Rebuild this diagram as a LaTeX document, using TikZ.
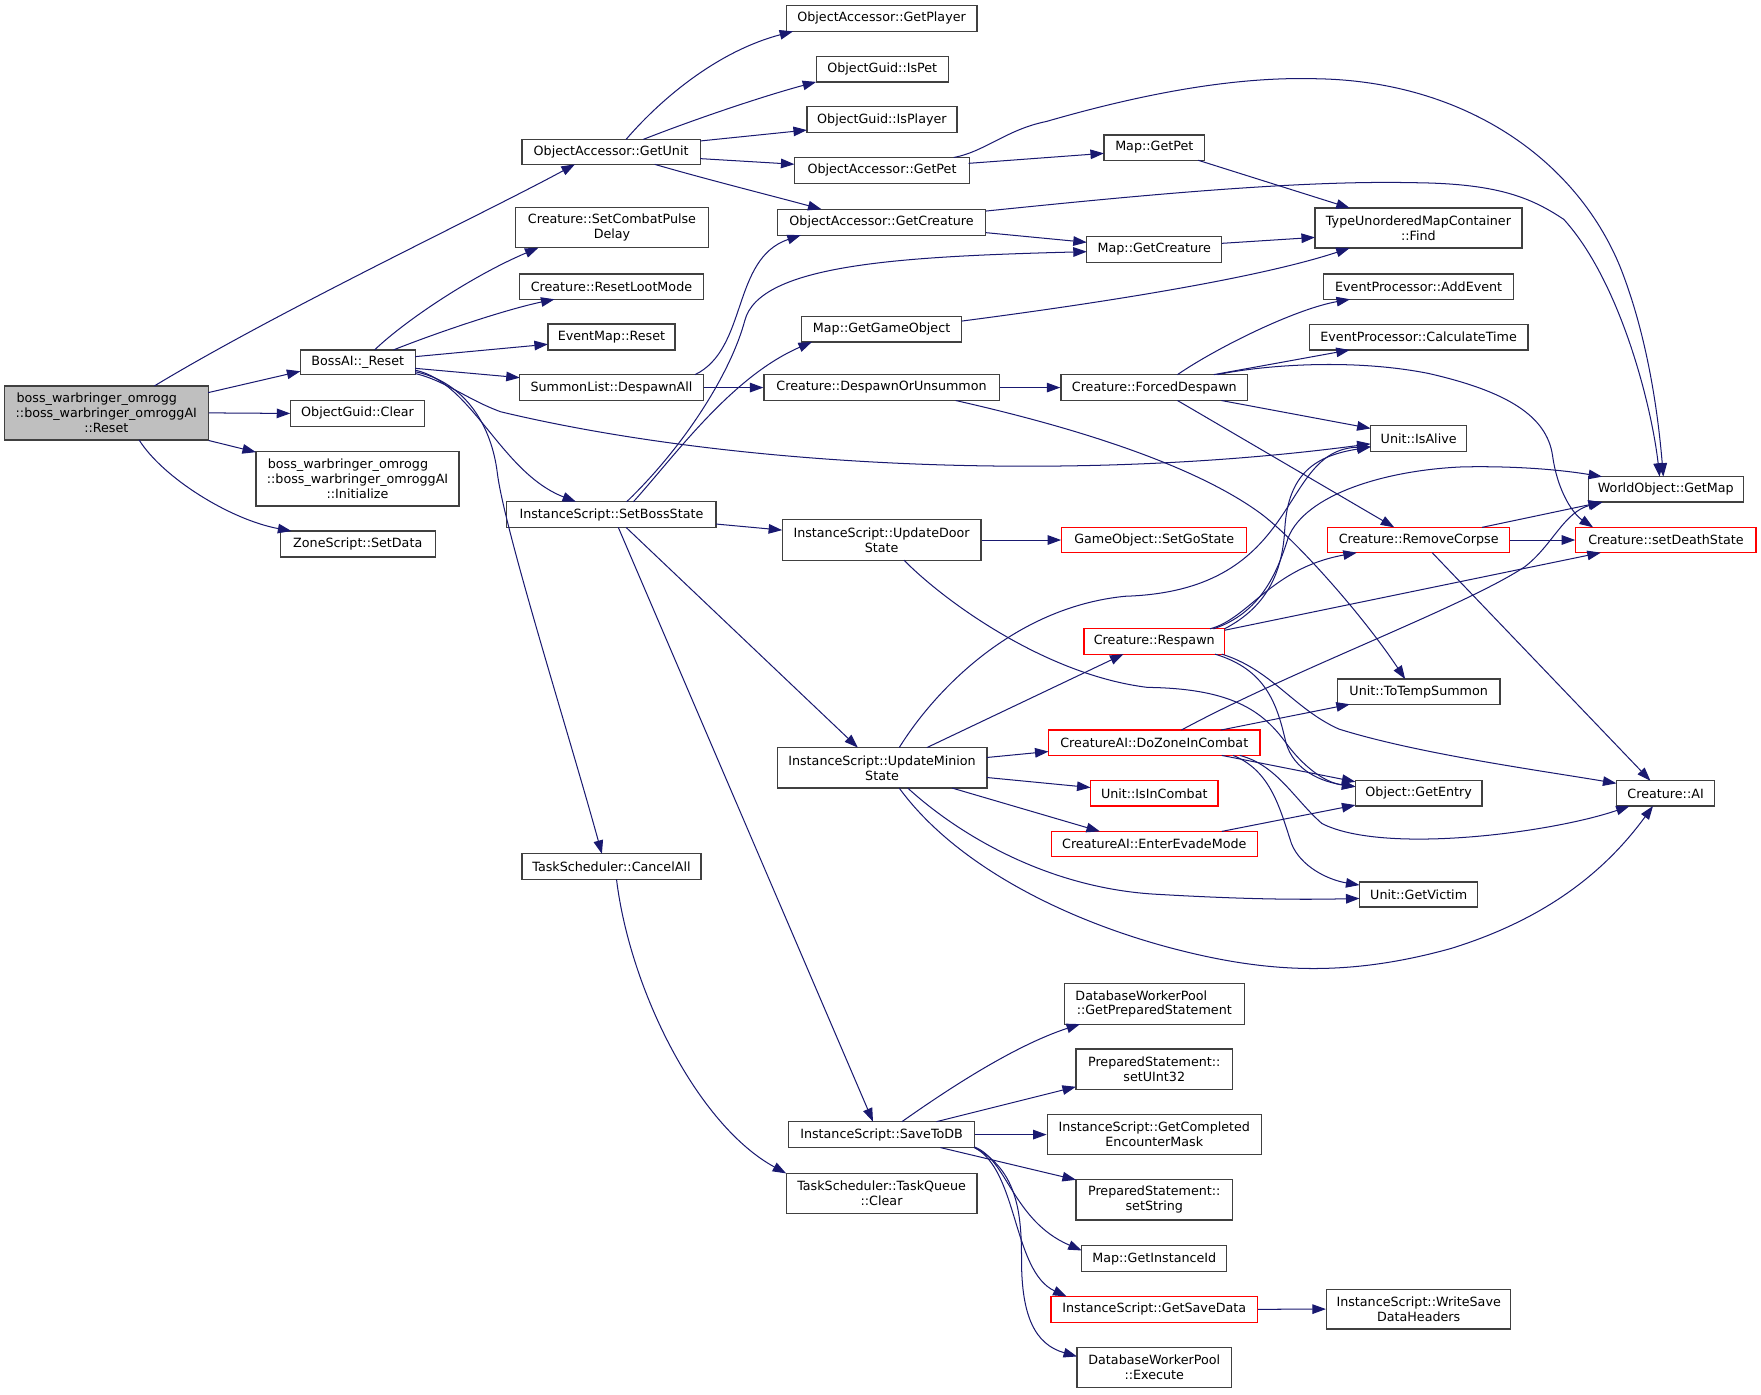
\documentclass[tikz,border=0pt]{standalone}
\usepackage{fontspec}
\setmainfont{DejaVu Sans}
\usetikzlibrary{arrows.meta}
\definecolor{edgec}{HTML}{191970}
\definecolor{boxc}{HTML}{404040}
\definecolor{redc}{HTML}{FF0000}
\definecolor{mainfill}{HTML}{BFBFBF}
\newcommand\dgf{\fontsize{11.3}{13.3}\selectfont}
\begin{document}
\begin{tikzpicture}[x=1pt,y=-1pt,
  nbox/.style={draw=boxc, line width=1.1pt, rectangle, inner sep=0pt, align=center, font=\dgf, fill=white},
  rbox/.style={nbox, draw=redc},
  mbox/.style={nbox, fill=mainfill},
  edg/.style={draw=edgec, line width=0.9pt, -{Triangle[length=12pt,width=8.5pt]}}]
\fill[white] (0,0) rectangle (1565.3,1239.1);
\useasboundingbox (0,0) rectangle (1565.3,1239.1);

% column 1
\node[mbox, minimum width=181pt, minimum height=48pt] (M) at (94.5,367) {boss\_warbringer\_omrogg\hspace*{17pt}\\::boss\_warbringer\_omroggAI\\::Reset};
% column 2
\node[nbox, minimum width=102pt, minimum height=22pt] (B) at (318,322) {BossAI::\_Reset};
\node[nbox, minimum width=118.5pt, minimum height=23pt] (OC) at (317.8,367.5) {ObjectGuid::Clear};
\node[nbox, minimum width=180.5pt, minimum height=48.3pt] (IN) at (317.8,425.6) {boss\_warbringer\_omrogg\hspace*{17pt}\\::boss\_warbringer\_omroggAI\\::Initialize};
\node[nbox, minimum width=138pt, minimum height=23pt] (ZS) at (318,483.5) {ZoneScript::SetData};
% column 3
\node[nbox, minimum width=158.4pt, minimum height=22.2pt] (U) at (543.2,135) {ObjectAccessor::GetUnit};
\node[nbox, minimum width=172pt, minimum height=35.5pt] (CP) at (544,202.5) {Creature::SetCombatPulse\\Delay};
\node[nbox, minimum width=163pt, minimum height=22.4pt] (RL) at (543.5,254.8) {Creature::ResetLootMode};
\node[nbox, minimum width=113pt, minimum height=23pt] (ER) at (543.5,299.5) {EventMap::Reset};
\node[nbox, minimum width=163pt, minimum height=23pt] (SL) at (543.5,344.5) {SummonList::DespawnAll};
\node[nbox, minimum width=186pt, minimum height=22.8pt] (SB) at (543.5,457.4) {InstanceScript::SetBossState};
\node[nbox, minimum width=159pt, minimum height=22.7pt] (CA) at (543.5,770.3) {TaskScheduler::CancelAll};
% column 4
\node[nbox, minimum width=169.7pt, minimum height=22.9pt] (GP) at (783.6,16.4) {ObjectAccessor::GetPlayer};
\node[nbox, minimum width=117.4pt, minimum height=22.5pt] (IP) at (784.2,61.6) {ObjectGuid::IsPet};
\node[nbox, minimum width=133.3pt, minimum height=23pt] (IPl) at (783.9,106.5) {ObjectGuid::IsPlayer};
\node[nbox, minimum width=155.7pt, minimum height=23pt] (GPe) at (784,151.5) {ObjectAccessor::GetPet};
\node[nbox, minimum width=185.4pt, minimum height=23pt] (GC) at (783.6,197.5) {ObjectAccessor::GetCreature};
\node[nbox, minimum width=142.5pt, minimum height=22.5pt] (GGO) at (783.6,292.7) {Map::GetGameObject};
\node[nbox, minimum width=209pt, minimum height=23pt] (DU) at (783.6,344.5) {Creature::DespawnOrUnsummon};
\node[nbox, minimum width=176.8pt, minimum height=35.8pt] (UD) at (783.6,480) {InstanceScript::UpdateDoor\\State};
\node[nbox, minimum width=186.5pt, minimum height=36pt] (UM) at (784,682.5) {InstanceScript::UpdateMinion\\State};
\node[nbox, minimum width=165pt, minimum height=23pt] (SD) at (783.6,1008.5) {InstanceScript::SaveToDB};
\node[nbox, minimum width=169.7pt, minimum height=35.6pt] (TQ) at (783.6,1060.8) {TaskScheduler::TaskQueue\\::Clear};
% column 5
\node[nbox, minimum width=89.5pt, minimum height=22.5pt] (MGP) at (1026,131.2) {Map::GetPet};
\node[nbox, minimum width=120pt, minimum height=22.6pt] (MGC) at (1026,221.7) {Map::GetCreature};
\node[nbox, minimum width=166pt, minimum height=23pt] (FD) at (1026,344.5) {Creature::ForcedDespawn};
\node[rbox, minimum width=164.5pt, minimum height=22.5pt] (GS) at (1026,480) {GameObject::SetGoState};
\node[rbox, minimum width=125pt, minimum height=22.5pt] (R) at (1026,570.2) {Creature::Respawn};
\node[rbox, minimum width=188pt, minimum height=22.5pt] (DZ) at (1026,660.2) {CreatureAI::DoZoneInCombat};
\node[rbox, minimum width=113.3pt, minimum height=22.5pt] (IC) at (1026,705.2) {Unit::IsInCombat};
\node[rbox, minimum width=183.2pt, minimum height=22.6pt] (EE) at (1026,750.3) {CreatureAI::EnterEvadeMode};
\node[nbox, minimum width=159.7pt, minimum height=35.8pt] (PS) at (1026,892.4) {DatabaseWorkerPool\hspace*{23pt}\\::GetPreparedStatement};
\node[nbox, minimum width=139.3pt, minimum height=35.8pt] (U32) at (1026,950.4) {PreparedStatement::\\setUInt32};
\node[nbox, minimum width=190.3pt, minimum height=35.8pt] (CEM) at (1026,1008.5) {InstanceScript::GetCompleted\\EncounterMask};
\node[nbox, minimum width=139.3pt, minimum height=35.8pt] (SS) at (1026,1066.6) {PreparedStatement::\\setString};
\node[nbox, minimum width=129pt, minimum height=22.8pt] (GII) at (1026,1118.8) {Map::GetInstanceId};
\node[rbox, minimum width=183.5pt, minimum height=22.8pt] (GSD) at (1026,1163.8) {InstanceScript::GetSaveData};
\node[nbox, minimum width=137.3pt, minimum height=35.8pt] (EX) at (1026,1215.6) {DatabaseWorkerPool\\::Execute};
% column 6
\node[nbox, minimum width=184pt, minimum height=35.6pt] (FI) at (1260.8,202.7) {TypeUnorderedMapContainer\\::Find};
\node[nbox, minimum width=169.2pt, minimum height=22.4pt] (AE) at (1261,254.8) {EventProcessor::AddEvent};
\node[nbox, minimum width=194.3pt, minimum height=22.7pt] (CT) at (1261,299.7) {EventProcessor::CalculateTime};
\node[nbox, minimum width=85.4pt, minimum height=22.8pt] (IA) at (1261,389.8) {Unit::IsAlive};
\node[rbox, minimum width=162pt, minimum height=22.5pt] (RC) at (1261,480) {Creature::RemoveCorpse};
\node[nbox, minimum width=144.4pt, minimum height=22.4pt] (TS) at (1261,614.8) {Unit::ToTempSummon};
\node[nbox, minimum width=112.4pt, minimum height=22.5pt] (GE) at (1261,705.2) {Object::GetEntry};
\node[nbox, minimum width=105.2pt, minimum height=22.2pt] (GV) at (1261,795.1) {Unit::GetVictim};
\node[nbox, minimum width=163.8pt, minimum height=35.5pt] (WS) at (1261,1163.6) {InstanceScript::WriteSave\\DataHeaders};
% column 7
\node[nbox, minimum width=137.5pt, minimum height=22.6pt] (GM) at (1480.7,435) {WorldObject::GetMap};
\node[rbox, minimum width=160.2pt, minimum height=22.5pt] (DS) at (1480.8,480) {Creature::setDeathState};
\node[nbox, minimum width=87.4pt, minimum height=22.5pt] (AI) at (1480.5,705.2) {Creature::AI};

% edges from main
\draw[edg] ([shift={(42.8,-24)}]M.center) .. controls (250,275) and (430,190) .. ([shift={(-32.2,11.1)}]U.center);
\draw[edg] ([shift={(90.5,-18)}]M.center) -- ([shift={(-51,8)}]B.center);
\draw[edg] (M.east) -- (OC.west);
\draw[edg] (M.south east) -- ([shift={(0.5,1)}]IN.north west);
\draw[edg] ([shift={(29.1,24)}]M.center) .. controls (145,425) and (205,462) .. ([shift={(-59,-11.5)}]ZS.center);
% BossAI::_Reset
\draw[edg] ([shift={(15,-11)}]B.center) .. controls (360,285) and (420,245) .. ([shift={(-65.4,17.7)}]CP.center);
\draw[edg] ([shift={(31.8,-11)}]B.center) .. controls (390,295) and (450,275) .. ([shift={(-50.6,11.2)}]RL.center);
\draw[edg] ([shift={(51,-5)}]B.center) -- ([shift={(-56.5,6.5)}]ER.center);
\draw[edg] ([shift={(51,5.4)}]B.center) -- ([shift={(-81.5,-8.8)}]SL.center);
\draw[edg] ([shift={(51,10)}]B.center) .. controls (395,338) and (415,355) .. (445,366) .. controls (650,415) and (950,430) .. ([shift={(-42.7,4.7)}]IA.center);
\draw[edg] ([shift={(51,7)}]B.center) .. controls (420,340) and (445,420) .. ([shift={(-31.5,-11.4)}]SB.center);
\draw[edg] ([shift={(51,8.4)}]B.center) .. controls (415,340) and (437,380) .. (442,420) .. controls (448,470) and (505,650) .. ([shift={(-8.5,-11.35)}]CA.center);
% GetUnit
\draw[edg] ([shift={(13.3,-11.1)}]U.center) .. controls (590,85) and (640,45) .. ([shift={(-78.6,11.45)}]GP.center);
\draw[edg] ([shift={(28.6,-11.1)}]U.center) .. controls (620,105) and (680,85) .. ([shift={(-58.7,11.2)}]IP.center);
\draw[edg] ([shift={(79.2,-9.7)}]U.center) -- ([shift={(-66.65,9.1)}]IPl.center);
\draw[edg] ([shift={(79.2,6)}]U.center) -- ([shift={(-77.85,-5.5)}]GPe.center);
\draw[edg] ([shift={(38.8,11.1)}]U.center) .. controls (630,160) and (690,175) .. ([shift={(-53.4,-11.5)}]GC.center);
% GetPet, GetCreature
\draw[edg] ([shift={(76.9,-6.3)}]GPe.center) -- ([shift={(-44.75,5.1)}]MGP.center);
\draw[edg] ([shift={(63.7,-11.5)}]GPe.center) .. controls (875,135) and (895,115) .. (930,108) .. controls (1020,82) and (1100,68) .. (1170,70) .. controls (1300,72) and (1400,140) .. (1440,237) .. controls (1465,300) and (1474,370) .. ([shift={(-2.2,-11.3)}]GM.center);
\draw[edg] ([shift={(92.7,9.3)}]GC.center) -- ([shift={(-60,-6.3)}]MGC.center);
\draw[edg] ([shift={(92.7,-9.9)}]GC.center) .. controls (1000,175) and (1150,160) .. (1256,162.4) .. controls (1330,163) and (1360,175) .. (1390,195) .. controls (1440,250) and (1468,360) .. ([shift={(-5.5,-11.3)}]GM.center);
% into Find
\draw[edg] ([shift={(39,11.25)}]MGP.center) -- ([shift={(-61,-17.8)}]FI.center);
\draw[edg] ([shift={(60,-5.4)}]MGC.center) -- ([shift={(-92,8.3)}]FI.center);
\draw[edg] ([shift={(71.2,-7.3)}]GGO.center) .. controls (950,273) and (1110,250) .. ([shift={(-61.1,17.8)}]FI.center);
% SummonList
\draw[edg] ([shift={(74.3,-11.5)}]SL.center) .. controls (665,310) and (650,230) .. ([shift={(-71.8,11.5)}]GC.center);
\draw[edg] (SL.east) -- (DU.west);
% SetBossState
\draw[edg] ([shift={(13.5,-11.4)}]SB.center) .. controls (610,395) and (650,330) .. (662,285) .. controls (675,235) and (800,228) .. ([shift={(-60,2)}]MGC.center);
\draw[edg] ([shift={(19.5,-11.4)}]SB.center) .. controls (600,405) and (650,335) .. ([shift={(-61.9,11.25)}]GGO.center);
\draw[edg] ([shift={(93,8.4)}]SB.center) -- ([shift={(-88.4,-8.8)}]UD.center);
\draw[edg] ([shift={(13,11.4)}]SB.center) -- ([shift={(-21.5,-18)}]UM.center);
\draw[edg] ([shift={(6.1,11.4)}]SB.center) -- ([shift={(-7.6,-11.5)}]SD.center);
% UpdateDoorState
\draw[edg] (UD.east) -- (GS.west);
\draw[edg] ([shift={(19.9,17.9)}]UD.center) .. controls (840,535) and (930,600) .. (1020,611) .. controls (1100,612) and (1125,635) .. (1145,663) .. controls (1162,685) and (1180,696) .. ([shift={(-56.2,-5.9)}]GE.center);
% UpdateMinionState
\draw[edg] ([shift={(15.3,-18)}]UM.center) .. controls (830,615) and (900,540) .. (1000,530) .. controls (1160,525) and (1135,400) .. ([shift={(-42.7,7.3)}]IA.center);
\draw[edg] ([shift={(39.9,-18)}]UM.center) -- ([shift={(-27.4,11.25)}]R.center);
\draw[edg] ([shift={(93.25,-9.2)}]UM.center) -- ([shift={(-94,7.8)}]DZ.center);
\draw[edg] ([shift={(93.25,8.6)}]UM.center) -- ([shift={(-56.65,-5.2)}]IC.center);
\draw[edg] ([shift={(62.4,18)}]UM.center) -- ([shift={(-48.3,-11.3)}]EE.center);
\draw[edg] ([shift={(22.9,18)}]UM.center) .. controls (850,740) and (930,790) .. (1030,795) .. controls (1100,799) and (1150,800) .. ([shift={(-52.6,3.5)}]GV.center);
\draw[edg] ([shift={(15.3,18)}]UM.center) .. controls (850,770) and (950,820) .. (1050,845) .. controls (1130,865) and (1200,868) .. (1290,843) .. controls (1380,815) and (1430,770) .. ([shift={(-11.2,11.25)}]AI.center);
% ForcedDespawn
\draw[edg] ([shift={(20.6,-11.5)}]FD.center) .. controls (1080,310) and (1150,275) .. ([shift={(-61,11.2)}]AE.center);
\draw[edg] ([shift={(52.9,-11.5)}]FD.center) -- ([shift={(-61.3,11.35)}]CT.center);
\draw[edg] ([shift={(56.2,-11.5)}]FD.center) .. controls (1120,325) and (1200,318) .. (1270,332) .. controls (1340,348) and (1375,370) .. (1380,405) .. controls (1385,440) and (1400,458) .. ([shift={(-64.8,-11.25)}]DS.center);
\draw[edg] ([shift={(59.6,11.5)}]FD.center) -- ([shift={(-42.7,-9)}]IA.center);
\draw[edg] ([shift={(20.6,11.5)}]FD.center) -- ([shift={(-21.7,-11.25)}]RC.center);
% DespawnOrUnsummon
\draw[edg] (DU.east) -- (FD.west);
\draw[edg] ([shift={(65.9,11.5)}]DU.center) .. controls (920,372) and (1050,405) .. (1120,456) .. controls (1150,478) and (1210,545) .. ([shift={(-12,-11.2)}]TS.center);
% Respawn
\draw[edg] ([shift={(62.4,-11.25)}]R.center) .. controls (1125,540) and (1140,510) .. (1142,470) .. controls (1145,420) and (1170,405) .. ([shift={(-42.7,7.5)}]IA.center);
\draw[edg] ([shift={(52.6,-11.25)}]R.center) .. controls (1120,545) and (1135,510) .. (1145,478) .. controls (1160,440) and (1230,418) .. (1300,415) .. controls (1350,414) and (1390,418) .. ([shift={(-56.7,-11.3)}]GM.center);
\draw[edg] ([shift={(49.5,-11.25)}]R.center) .. controls (1110,550) and (1130,505) .. ([shift={(-55,11.25)}]RC.center);
\draw[edg] ([shift={(62.5,-10)}]R.center) -- ([shift={(-57.9,11.25)}]DS.center);
\draw[edg] ([shift={(54,11.25)}]R.center) .. controls (1125,595) and (1135,625) .. (1143,660) .. controls (1150,685) and (1175,695) .. ([shift={(-56.2,-6)}]GE.center);
\draw[edg] ([shift={(60,11.25)}]R.center) .. controls (1130,595) and (1150,630) .. (1190,648) .. controls (1260,670) and (1370,685) .. ([shift={(-43.7,-8.9)}]AI.center);
% DoZoneInCombat
\draw[edg] ([shift={(24,-11.25)}]DZ.center) .. controls (1150,595) and (1300,540) .. (1355,504) .. controls (1380,485) and (1390,455) .. ([shift={(-56.1,11.3)}]GM.center);
\draw[edg] ([shift={(59,-11.25)}]DZ.center) -- ([shift={(-61.2,11.2)}]TS.center);
\draw[edg] ([shift={(60,11.25)}]DZ.center) -- ([shift={(-56.2,-10.3)}]GE.center);
\draw[edg] ([shift={(70,11.25)}]DZ.center) .. controls (1130,685) and (1138,720) .. (1148,750) .. controls (1156,770) and (1180,782) .. ([shift={(-52.6,-8.4)}]GV.center);
\draw[edg] ([shift={(76,11.25)}]DZ.center) .. controls (1135,680) and (1150,710) .. (1175,732) .. controls (1230,760) and (1380,740) .. ([shift={(-32,11.25)}]AI.center);
% EnterEvadeMode
\draw[edg] ([shift={(60,-11.3)}]EE.center) -- ([shift={(-56.2,10.4)}]GE.center);
% RemoveCorpse
\draw[edg] ([shift={(56.3,-11.25)}]RC.center) -- ([shift={(-56.9,11.3)}]GM.center);
\draw[edg] (RC.east) -- (DS.west);
\draw[edg] ([shift={(12,11.25)}]RC.center) -- ([shift={(-13.5,-11.25)}]AI.center);
% CancelAll
\draw[edg] ([shift={(4.5,11.35)}]CA.center) .. controls (560,880) and (620,1000) .. ([shift={(-84.8,-17.8)}]TQ.center);
% SaveToDB
\draw[edg] ([shift={(18.1,-11.5)}]SD.center) .. controls (840,970) and (900,930) .. ([shift={(-66,17.9)}]PS.center);
\draw[edg] ([shift={(48.8,-11.5)}]SD.center) -- ([shift={(-69.65,15.6)}]U32.center);
\draw[edg] (SD.east) -- (CEM.west);
\draw[edg] ([shift={(52.2,11.5)}]SD.center) -- ([shift={(-69.65,-17.9)}]SS.center);
\draw[edg] ([shift={(82.5,11)}]SD.center) .. controls (895,1030) and (900,1085) .. ([shift={(-64.5,-7.3)}]GII.center);
\draw[edg] ([shift={(82.5,11.5)}]SD.center) .. controls (905,1040) and (900,1130) .. ([shift={(-78,-11.4)}]GSD.center);
\draw[edg] ([shift={(82.5,11.5)}]SD.center) .. controls (905,1040) and (908,1080) .. (908,1120) .. controls (908,1170) and (920,1195) .. ([shift={(-68.65,-9.9)}]EX.center);
% GetSaveData
\draw[edg] (GSD.east) -- (WS.west);
\end{tikzpicture}
\end{document}
